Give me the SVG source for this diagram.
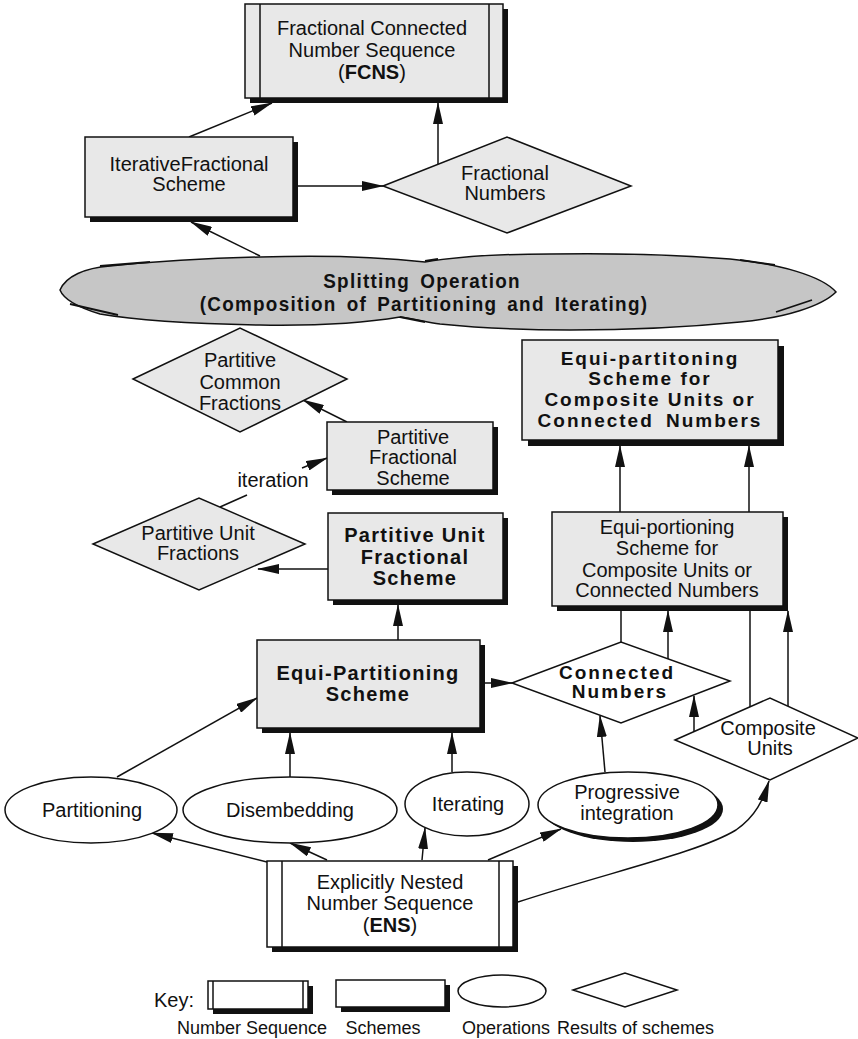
<svg xmlns="http://www.w3.org/2000/svg" width="858" height="1039" viewBox="0 0 858 1039">
<style>
.t{font-family:"Liberation Sans",Arial,Helvetica,sans-serif;font-size:20px;text-anchor:middle;fill:#111}
.b{font-weight:bold;letter-spacing:1.3px}
.w{font-weight:bold;letter-spacing:2px;font-size:19px}
.c{font-family:"Liberation Sans",Arial,Helvetica,sans-serif;font-size:21px;font-weight:bold;letter-spacing:1.4px;word-spacing:4px;text-anchor:middle;fill:#111}
.k{font-family:"Liberation Sans",Arial,Helvetica,sans-serif;font-size:18px;fill:#111}
.box{fill:#e8e8e8;stroke:#111;stroke-width:1.5}
.wbox{fill:#fff;stroke:#111;stroke-width:1.5}
.sh{fill:#111}
.ln{fill:none;stroke:#111;stroke-width:1.5}
.ar{fill:none;stroke:#111;stroke-width:1.5;marker-end:url(#ah)}
</style>
<defs>
<marker id="ah" markerWidth="22" markerHeight="10" refX="21" refY="5" orient="auto" markerUnits="userSpaceOnUse">
<path d="M0,0 L22,5 L0,10 z" fill="#111"/>
</marker>
</defs>
<rect width="858" height="1039" fill="#fff"/>

<g id="connectors">
<path class="ar" d="M189,137 L272,103"/>
<path class="ar" d="M298,186 L383,186"/>
<path class="ar" d="M438,164 L438,103"/>
<path class="ar" d="M260,256 L191,222"/>
<path class="ar" d="M347,422 L303,400"/>
<path class="ln" d="M220,507 L247,495"/>
<path class="ar" d="M302,468 L327,458"/>
<path class="ar" d="M328,569 L258,569"/>
<path class="ar" d="M398,640 L398,605"/>
<path class="ar" d="M485,683 L512,683"/>
<path class="ar" d="M620,512 L620,446"/>
<path class="ar" d="M749,512 L749,446"/>
<path class="ln" d="M621,642 L621,611"/>
<path class="ar" d="M668,659 L668,611"/>
<path class="ln" d="M750,707 L750,611"/>
<path class="ar" d="M788,706 L788,611"/>
<path class="ar" d="M694,732 L694,696"/>
<path class="ar" d="M605,772 L600,716"/>
<path class="ar" d="M117,777 L257,698"/>
<path class="ar" d="M290,777 L290,733"/>
<path class="ar" d="M452,772 L452,733"/>
<path class="ar" d="M267,862 L152,833"/>
<path class="ar" d="M327,860 L290,843"/>
<path class="ar" d="M422,860 L425,828"/>
<path class="ar" d="M488,860 L561,829"/>
<path class="ar" d="M518,902 C610,872 700,852 736,830 C756,816 763,800 769,781"/>
</g>

<g id="fcns">
<rect class="sh" x="250" y="9" width="258" height="94"/>
<rect class="box" x="245" y="4" width="258" height="94"/>
<line class="ln" x1="260" y1="4" x2="260" y2="98"/>
<line class="ln" x1="489" y1="4" x2="489" y2="98"/>
<text class="t" x="372" y="35">Fractional Connected</text>
<text class="t" x="372" y="57">Number Sequence</text>
<text class="t" x="372" y="79">(<tspan font-weight="bold">FCNS</tspan>)</text>
</g>

<g id="iterative-fractional">
<rect class="sh" x="90" y="142" width="208" height="80"/>
<rect class="box" x="85" y="137" width="208" height="80"/>
<text class="t" x="189" y="171">IterativeFractional</text>
<text class="t" x="189" y="191">Scheme</text>
</g>

<g id="fractional-numbers">
<polygon class="box" points="383,186 507,137 631,186 507,233"/>
<text class="t" x="505" y="180">Fractional</text>
<text class="t" x="505" y="200">Numbers</text>
</g>

<g id="splitting">
<path d="M60,290 C66,276 85,268 110,266 C160,261 220,258 260,257 C320,255 380,257 425,262 C460,256 500,254 550,254 C610,253 680,255 730,259 C780,264 822,276 836,292 C822,306 785,318 740,322 C690,327 630,330 570,330 C520,330 480,328 440,324 C425,322 412,318 400,317 C370,322 320,326 260,325 C200,324 140,321 100,314 C80,308 64,300 60,290 Z" fill="#c6c6c6" stroke="#111" stroke-width="1.5"/>
<path d="M100,266 L150,262 M70,304 L118,315 M740,260 L775,265 M776,312 L812,300 M400,317 L425,322 M425,261 L438,259" fill="none" stroke="#111" stroke-width="1.8"/>
<text class="c" transform="translate(422,288) scale(0.9,1)">Splitting Operation</text>
<text class="c" transform="translate(424,311) scale(0.9,1)">(Composition of Partitioning and Iterating)</text>
</g>

<g id="partitive-common-fractions">
<polygon class="box" points="133,379 240,328 347,379 240,432"/>
<text class="t" x="240" y="367">Partitive</text>
<text class="t" x="240" y="389">Common</text>
<text class="t" x="240" y="410">Fractions</text>
</g>

<g id="partitive-fractional-scheme">
<rect class="sh" x="332" y="427" width="166" height="68"/>
<rect class="box" x="327" y="422" width="166" height="68"/>
<text class="t" x="413" y="444">Partitive</text>
<text class="t" x="413" y="464">Fractional</text>
<text class="t" x="413" y="485">Scheme</text>
</g>

<g id="iteration-label">
<text class="t" x="273" y="487">iteration</text>
</g>

<g id="partitive-unit-fractions">
<polygon class="box" points="93,544 199,498 305,544 199,590"/>
<text class="t" x="198" y="540">Partitive Unit</text>
<text class="t" x="198" y="560">Fractions</text>
</g>

<g id="partitive-unit-fractional-scheme">
<rect class="sh" x="333" y="518" width="175" height="87"/>
<rect class="box" x="328" y="513" width="175" height="87"/>
<text class="t b" x="415" y="542">Partitive Unit</text>
<text class="t b" x="415" y="564">Fractional</text>
<text class="t b" x="415" y="585">Scheme</text>
</g>

<g id="equi-partitioning-composite">
<rect class="sh" x="528" y="346" width="256" height="100"/>
<rect class="box" x="522" y="340" width="256" height="100"/>
<text class="t w" x="650" y="365">Equi-partitoning</text>
<text class="t w" x="650" y="385">Scheme for</text>
<text class="t w" x="650" y="406">Composite Units or</text>
<text class="t w" x="650" y="427" style="word-spacing:5px">Connected Numbers</text>
</g>

<g id="equi-portioning">
<rect class="sh" x="557" y="517" width="231" height="94"/>
<rect class="box" x="552" y="512" width="231" height="94"/>
<text class="t" x="667" y="534">Equi-portioning</text>
<text class="t" x="667" y="555">Scheme for</text>
<text class="t" x="667" y="577">Composite Units or</text>
<text class="t" x="667" y="597">Connected Numbers</text>
</g>

<g id="equi-partitioning-scheme">
<rect class="sh" x="262" y="645" width="223" height="88"/>
<rect class="box" x="257" y="640" width="223" height="88"/>
<text class="t b" x="368" y="680">Equi-Partitioning</text>
<text class="t b" x="368" y="701">Scheme</text>
</g>

<g id="connected-numbers">
<polygon class="wbox" points="512,683 621,642 730,681 621,723"/>
<text class="t w" x="617" y="679">Connected</text>
<text class="t w" x="620" y="698">Numbers</text>
</g>

<g id="composite-units">
<polygon class="wbox" points="675,740 770,698 858,738 770,780"/>
<text class="t" x="768" y="735">Composite</text>
<text class="t" x="770" y="755">Units</text>
</g>

<g id="partitioning">
<ellipse class="wbox" cx="91" cy="810" rx="86" ry="33"/>
<text class="t" x="92" y="817">Partitioning</text>
</g>

<g id="disembedding">
<ellipse class="wbox" cx="290" cy="810" rx="107" ry="33"/>
<text class="t" x="290" y="817">Disembedding</text>
</g>

<g id="iterating">
<ellipse class="wbox" cx="467" cy="804" rx="62" ry="32"/>
<text class="t" x="468" y="811">Iterating</text>
</g>

<g id="progressive-integration">
<ellipse class="sh" cx="633" cy="809" rx="90" ry="33"/>
<ellipse class="wbox" cx="628" cy="805" rx="90" ry="33"/>
<text class="t" x="627" y="799">Progressive</text>
<text class="t" x="627" y="820">integration</text>
</g>

<g id="ens">
<rect class="sh" x="272" y="866" width="246" height="86"/>
<rect class="wbox" x="267" y="861" width="246" height="86"/>
<line class="ln" x1="282" y1="861" x2="282" y2="947"/>
<line class="ln" x1="499" y1="861" x2="499" y2="947"/>
<text class="t" x="390" y="889">Explicitly Nested</text>
<text class="t" x="390" y="910">Number Sequence</text>
<text class="t" x="390" y="932">(<tspan font-weight="bold">ENS</tspan>)</text>
</g>

<g id="key">
<text class="k" x="154" y="1007" style="font-size:20px">Key:</text>
<rect class="sh" x="213" y="986" width="100" height="28"/>
<rect class="wbox" x="208" y="981" width="100" height="28"/>
<line class="ln" x1="213" y1="981" x2="213" y2="1009"/>
<line class="ln" x1="303" y1="981" x2="303" y2="1009"/>
<rect class="sh" x="341" y="985" width="109" height="27"/>
<rect class="wbox" x="336" y="980" width="109" height="27"/>
<ellipse class="wbox" cx="502" cy="991" rx="44" ry="16"/>
<polygon class="wbox" points="573,990 625,973 677,990 625,1007"/>
<text class="k" x="252" y="1034" text-anchor="middle">Number Sequence</text>
<text class="k" x="383" y="1034" text-anchor="middle">Schemes</text>
<text class="k" x="506" y="1034" text-anchor="middle">Operations</text>
<text class="k" x="557" y="1034">Results of schemes</text>
</g>
</svg>
